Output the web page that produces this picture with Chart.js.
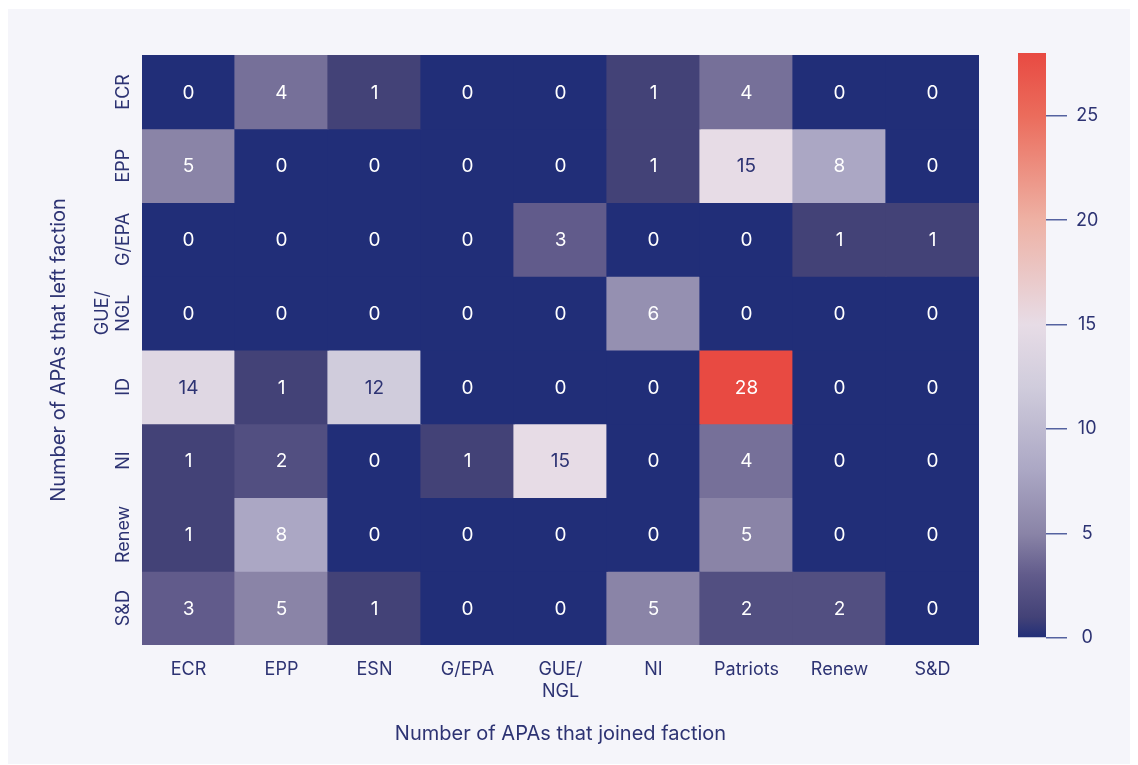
<!DOCTYPE html>
<html>
<head>
<meta charset="utf-8">
<title>APA faction switches</title>
<script src="https://cdn.jsdelivr.net/npm/chart.js@4.4.1/dist/chart.umd.min.js"></script>
<style>
  html, body { margin: 0; padding: 0; background: #fff; }
  #wrap  { position: relative; width: 1138px; height: 765px; overflow: hidden; }
  #panel { position: absolute; left: 8px; top: 9px; width: 1122px; height: 755px; background: #f5f5fa; }
  #heat  { position: absolute; left: 0; top: 0; }
  #cbar  { position: absolute; left: 1000px; top: 0; }
</style>
</head>
<body>
<div id="wrap">
  <div id="panel"></div>
  <canvas id="heat" width="1000" height="765"></canvas>
  <canvas id="cbar" width="138" height="765"></canvas>
</div>
<script>
// factions that APAs joined (columns) / left (rows)
const joinedFactions = ['ECR', 'EPP', 'ESN', 'G/EPA', ['GUE/', 'NGL'], 'NI', 'Patriots', 'Renew', 'S&D'];
const leftFactions   = ['ECR', 'EPP', 'G/EPA', ['GUE/', 'NGL'], 'ID', 'NI', 'Renew', 'S&D'];

// one row per faction left, values in joinedFactions order
const rowECR    = [0, 4, 1, 0, 0, 1, 4, 0, 0];
const rowEPP    = [5, 0, 0, 0, 0, 1, 15, 8, 0];
const rowGEPA   = [0, 0, 0, 0, 3, 0, 0, 1, 1];
const rowGUENGL = [0, 0, 0, 0, 0, 6, 0, 0, 0];
const rowID     = [14, 1, 12, 0, 0, 0, 28, 0, 0];
const rowNI     = [1, 2, 0, 1, 15, 0, 4, 0, 0];
const rowRenew  = [1, 8, 0, 0, 0, 0, 5, 0, 0];
const rowSD     = [3, 5, 1, 0, 0, 5, 2, 2, 0];
const rows = [rowECR, rowEPP, rowGEPA, rowGUENGL, rowID, rowNI, rowRenew, rowSD];

const colorbarMax   = 28;
const colorbarTicks = [0, 5, 10, 15, 20, 25];

// colour map stops (value -> colour)
const cmap = [
  [0,  '#212e78'], [1,  '#434277'], [3,  '#615b8b'], [5,  '#8a84a7'],
  [8,  '#aba7c4'], [12, '#d0ccdc'], [15, '#e7dce6'], [20, '#eeb1a4'],
  [25, '#eb6c5c'], [28, '#e84a42']
];

const INK = '#2d3373';
const FONT = "Inter, 'Noto Sans', sans-serif";

function hexRgb(h){ return [1,3,5].map(i => parseInt(h.substr(i,2),16)); }
function colorFor(v){
  for (let i = 1; i < cmap.length; i++) {
    if (v <= cmap[i][0]) {
      const [v0,c0] = cmap[i-1], [v1,c1] = cmap[i];
      const t = (v - v0) / (v1 - v0), a = hexRgb(c0), b = hexRgb(c1);
      return 'rgb(' + a.map((x,k) => Math.round(x + (b[k]-x)*t)).join(',') + ')';
    }
  }
  return cmap[cmap.length-1][1];
}
function isLight(v){
  const c = colorFor(v).match(/\d+/g).map(Number);
  return (0.299*c[0] + 0.587*c[1] + 0.114*c[2]) / 255 > 0.75;
}

Chart.defaults.font.family = FONT;
Chart.defaults.color = INK;

// cell numbers + rotated row labels
const heatText = {
  id: 'heatText',
  afterDatasetsDraw(chart){
    const ctx = chart.ctx;
    ctx.save();
    ctx.font = '19px ' + FONT;
    ctx.textAlign = 'center';
    ctx.textBaseline = 'middle';
    chart.data.datasets.forEach((ds, r) => {
      chart.getDatasetMeta(r).data.forEach((bar, c) => {
        const p = bar.getProps(['x','y','base'], true);
        const v = rows[r][c];
        ctx.fillStyle = isLight(v) ? INK : '#ffffff';
        ctx.fillText(String(v), p.x, (p.y + p.base) / 2 + 1);
      });
    });
    ctx.restore();
  },
  afterDraw(chart){
    const ctx = chart.ctx, ys = chart.scales.y;
    ctx.save();
    ctx.font = '18px ' + FONT;
    ctx.fillStyle = INK;
    ctx.textAlign = 'center';
    ctx.textBaseline = 'middle';
    leftFactions.forEach((lab, i) => {
      const lines = Array.isArray(lab) ? lab : [lab];
      const y = ys.getPixelForValue(i + 0.5);
      lines.forEach((ln, j) => {
        ctx.save();
        ctx.translate(124 - (lines.length - 1 - j) * 21, y);
        ctx.rotate(-Math.PI / 2);
        ctx.fillText(ln, 0, 0);
        ctx.restore();
      });
    });
    ctx.restore();
  }
};

new Chart(document.getElementById('heat'), {
  type: 'bar',
  data: {
    labels: joinedFactions,
    datasets: rows.map((vals, r) => ({
      label: Array.isArray(leftFactions[r]) ? leftFactions[r].join('') : leftFactions[r],
      data: vals.map(() => [r, r + 1]),
      backgroundColor: vals.map(colorFor),
      borderWidth: 0,
      inflateAmount: 0.6,
      grouped: false,
      barPercentage: 1,
      categoryPercentage: 1
    }))
  },
  options: {
    responsive: false,
    animation: false,
    layout: { padding: { top: 55, right: 21, bottom: 19, left: 0 } },
    plugins: { legend: { display: false }, tooltip: { enabled: false } },
    scales: {
      x: {
        grid: { display: false, drawTicks: false },
        border: { display: false },
        ticks: { font: { size: 18 }, color: INK, padding: 14, maxRotation: 0, autoSkip: false },
        title: { display: true, text: 'Number of APAs that joined faction', font: { size: 20 }, color: INK, padding: 0 },
        afterFit(s){ s.height = 101; }
      },
      y: {
        min: 0, max: rows.length, reverse: true,
        grid: { display: false, drawTicks: false },
        border: { display: false },
        ticks: { display: false },
        title: { display: true, text: 'Number of APAs that left faction', font: { size: 20 }, color: INK, padding: { top: 47, bottom: 0 } },
        afterFit(s){ s.width = 142; }
      }
    }
  },
  plugins: [heatText]
});

// colour bar
new Chart(document.getElementById('cbar'), {
  type: 'bar',
  data: {
    labels: [''],
    datasets: [{
      data: [[0, colorbarMax]],
      borderWidth: 0,
      inflateAmount: 0,
      barPercentage: 1,
      categoryPercentage: 1,
      backgroundColor(c){
        const ch = c.chart;
        if (!ch.chartArea) return null;
        const ys = ch.scales.y;
        const g = ch.ctx.createLinearGradient(0, ys.getPixelForValue(0), 0, ys.getPixelForValue(colorbarMax));
        cmap.forEach(([v, col]) => g.addColorStop(v / colorbarMax, col));
        return g;
      }
    }]
  },
  options: {
    responsive: false,
    animation: false,
    layout: { padding: { top: 53, right: 0, bottom: 127, left: 18 } },
    plugins: { legend: { display: false }, tooltip: { enabled: false } },
    scales: {
      x: { display: false },
      y: {
        position: 'right',
        min: 0, max: colorbarMax,
        afterBuildTicks(s){ s.ticks = colorbarTicks.map(v => ({ value: v })); },
        grid: { drawOnChartArea: false, drawTicks: true, tickLength: 21, color: '#5562a0', lineWidth: 1.5 },
        border: { display: false },
        ticks: { font: { size: 18 }, color: INK, padding: 9, crossAlign: 'center' },
        afterFit(s){ s.width = 92; }
      }
    }
  }
});
</script>
</body>
</html>
